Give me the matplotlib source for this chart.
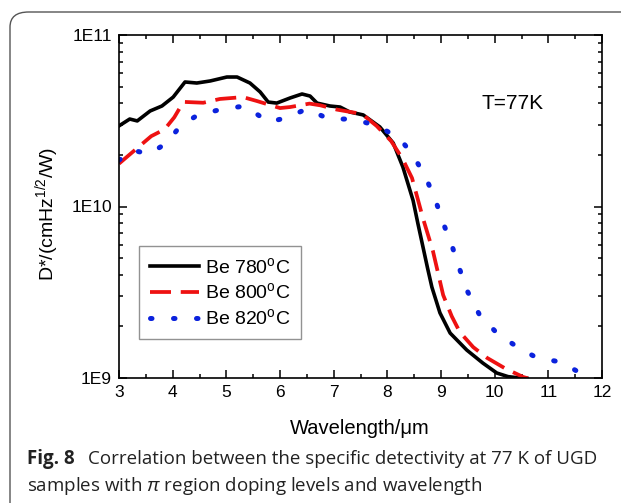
"""Specific detectivity vs wavelength for three Be doping temperatures"""
import matplotlib
matplotlib.use("Agg")
import matplotlib.pyplot as plt
from matplotlib.patches import FancyBboxPatch
from matplotlib.ticker import LogLocator, MultipleLocator, NullFormatter, FixedLocator

# Be 780 C (solid black), log10 of D*
wl_780 = [3.0, 3.2, 3.34, 3.58, 3.8, 4.01, 4.23, 4.45, 4.7, 5.01, 5.2, 5.44,
          5.63, 5.78, 5.94, 6.19, 6.41, 6.56, 6.69, 6.93, 7.12, 7.3, 7.55, 7.86,
          8.11, 8.29, 8.48, 8.57, 8.66, 8.75, 8.83, 8.98, 9.17, 9.48, 9.78,
          10.04, 10.25, 10.47, 10.6]
log_d_780 = [10.47, 10.51, 10.499, 10.557, 10.586, 10.638, 10.726, 10.72, 10.732,
             10.755, 10.755, 10.72, 10.668, 10.609, 10.603, 10.633, 10.656,
             10.644, 10.603, 10.586, 10.58, 10.551, 10.534, 10.464, 10.37, 10.23,
             10.035, 9.9, 9.77, 9.64, 9.53, 9.38, 9.262, 9.163, 9.087, 9.029,
             9.008, 9.0, 8.998]

# Be 800 C (red dashed)
wl_800 = [3.0, 3.3, 3.6, 3.85, 4.03, 4.2, 4.57, 4.88, 5.31, 5.57, 6.0, 6.19,
          6.55, 6.75, 7.06, 7.43, 7.53, 7.8, 8.07, 8.28, 8.46, 8.67, 8.85, 9.04,
          9.2, 9.35, 9.6, 9.86, 10.2, 10.53, 10.62]
log_d_800 = [10.25, 10.33, 10.41, 10.45, 10.52, 10.61, 10.605, 10.627, 10.638,
             10.615, 10.574, 10.58, 10.6, 10.59, 10.565, 10.545, 10.539, 10.47,
             10.382, 10.28, 10.166, 9.925, 9.74, 9.484, 9.36, 9.268, 9.18, 9.117,
             9.055, 9.006, 8.998]

# Be 820 C (blue dotted)
wl_820 = [3.0, 3.24, 3.56, 3.89, 4.14, 4.47, 4.94, 5.35, 5.78, 6.11, 6.5, 6.91,
          7.36, 7.83, 8.24, 8.5, 8.72, 8.89, 9.04, 9.2, 9.34, 9.5, 9.71, 10.04,
          10.42, 10.79, 11.24, 11.66, 11.75]
log_d_820 = [10.27, 10.329, 10.306, 10.37, 10.469, 10.534, 10.569, 10.586, 10.493,
             10.516, 10.569, 10.51, 10.51, 10.469, 10.394, 10.289, 10.166, 10.044,
             9.904, 9.776, 9.641, 9.501, 9.373, 9.262, 9.181, 9.117, 9.093, 9.017,
             8.998]

labels = ["Be 780$^{\\mathrm{o}}$C", "Be 800$^{\\mathrm{o}}$C", "Be 820$^{\\mathrm{o}}$C"]
x_ticks = [3, 4, 5, 6, 7, 8, 9, 10, 11, 12]
y_ticks = [1e9, 1e10, 1e11]
y_tick_labels = ["1E9", "1E10", "1E11"]

plt.rcParams["font.family"] = ["Liberation Sans", "DejaVu Sans"]
plt.rcParams["mathtext.fontset"] = "custom"
plt.rcParams["mathtext.rm"] = "Liberation Sans"
plt.rcParams["mathtext.it"] = "Liberation Sans:italic"

W, H = 621, 503
fig = plt.figure(figsize=(W / 100, H / 100), dpi=100)

# rounded frame around the figure panel
frame = FancyBboxPatch((10 / W, -0.1), 1.2, 0.1 + (H - 12) / H,
                       boxstyle="round,pad=0,rounding_size=0.03",
                       transform=fig.transFigure, fill=False,
                       edgecolor="#555555", linewidth=1.0)
fig.patches.append(frame)

ax = fig.add_axes([119 / W, 1 - 378 / H, (602 - 119) / W, (378 - 35) / H])

ax.plot(wl_780, [10 ** v for v in log_d_780], color="black", lw=2.6,
        solid_joinstyle="round", label=labels[0])
ax.plot(wl_800, [10 ** v for v in log_d_800], color="#ee1111", lw=2.7,
        dashes=(5.6, 2.6), label=labels[1])
ax.plot(wl_820, [10 ** v for v in log_d_820], color="#0b22dd", lw=3.6,
        dashes=(0.3, 4.3), dash_capstyle="round", label=labels[2])

ax.set_yscale("log")
ax.set_xlim(3, 12)
ax.set_ylim(1e9, 1e11)
ax.xaxis.set_major_locator(FixedLocator(x_ticks))
ax.xaxis.set_minor_locator(MultipleLocator(0.5))
ax.yaxis.set_major_locator(FixedLocator(y_ticks))
ax.yaxis.set_minor_locator(LogLocator(base=10, subs=range(2, 10)))
ax.yaxis.set_minor_formatter(NullFormatter())
ax.set_yticklabels(y_tick_labels)
ax.tick_params(which="both", direction="in", top=True, right=True,
               labelsize=12.5, width=1.1, pad=5)
ax.tick_params(which="major", length=5.5)
ax.tick_params(which="minor", length=3)
for sp in ax.spines.values():
    sp.set_linewidth(1.2)

# axis titles placed by pixel position
fig.text(360 / W, 1 - 428 / H, "Wavelength/\u03bcm", fontsize=14.5,
         ha="center", va="center")
fig.text(47 / W, 1 - 214 / H, "D*/(cmHz$^{\\mathrm{1/2}}$/W)", fontsize=14,
         rotation=90, ha="center", va="center")
fig.text(481 / W, 1 - 103 / H, "T=77K", fontsize=15, va="center")

leg = ax.legend(loc="lower left", bbox_to_anchor=(20 / 483, 39 / 343),
                borderaxespad=0, fontsize=14, frameon=True, fancybox=False,
                edgecolor="#777777", handlelength=2.55, handletextpad=0.27,
                borderpad=0.55, labelspacing=0.3)
leg.get_frame().set_linewidth(1.0)

# caption
cap = dict(fontsize=13.5, family="Open Sans", va="center", color="#222222")
fig.text(27 / W, 1 - 459 / H, "Fig. 8", fontweight="bold", **cap)
fig.text(88 / W, 1 - 459 / H,
         "Correlation between the specific detectivity at 77 K of UGD", **cap)
fig.text(27 / W, 1 - 486 / H,
         "samples with $\\mathit{\\pi}$ region doping levels and wavelength", **cap)

fig.savefig("out.png", dpi=100)
